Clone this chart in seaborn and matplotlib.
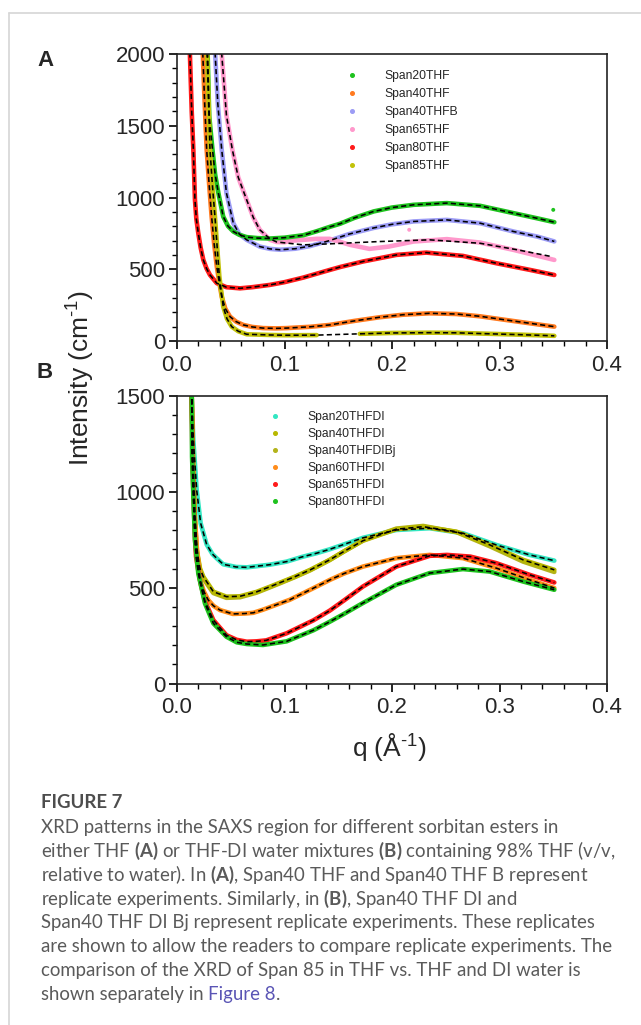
import seaborn as sns
from matplotlib import pyplot as plt
from matplotlib.lines import Line2D
from matplotlib.ticker import MultipleLocator

# ---------------- panel A : THF ----------------
q_a20 = [0.0275, 0.0285, 0.030, 0.033, 0.0355, 0.0385, 0.043, 0.0475, 0.0524, 0.058,
         0.0648, 0.075, 0.0865, 0.100, 0.1175, 0.130, 0.142, 0.152, 0.165, 0.183,
         0.200, 0.220, 0.251, 0.282, 0.313, 0.335, 0.351]
i_a20 = [2300, 2000, 1566, 1333, 1160, 1031, 867, 800, 763, 740,
         724, 717, 714, 720, 737, 765, 795, 818, 858, 903,
         930, 949, 961, 942, 891, 855, 828]

q_a40 = [0.0232, 0.024, 0.0255, 0.0276, 0.030, 0.0322, 0.0345, 0.037, 0.0395, 0.0416,
         0.045, 0.0493, 0.055, 0.0617, 0.070, 0.080, 0.092, 0.102, 0.124, 0.142,
         0.165, 0.188, 0.210, 0.235, 0.260, 0.282, 0.317, 0.351]
i_a40 = [2300, 2000, 1700, 1333, 1080, 867, 680, 519, 400, 309,
         225, 170, 135, 112, 98, 90, 88, 90, 99, 112,
         140, 165, 183, 193, 188, 172, 135, 100]

q_a40b = [0.034, 0.0355, 0.038, 0.0416, 0.046, 0.0524, 0.058, 0.0648, 0.077, 0.0865,
          0.0958, 0.110, 0.124, 0.142, 0.160, 0.183, 0.200, 0.220, 0.251, 0.282,
          0.313, 0.335, 0.351]
i_a40b = [2300, 2000, 1650, 1333, 1031, 821, 745, 705, 658, 642,
          636, 643, 662, 700, 745, 788, 813, 833, 844, 821,
          763, 728, 694]

q_a65 = [0.040, 0.0416, 0.046, 0.0515, 0.057, 0.0648, 0.071, 0.077, 0.0865, 0.0927,
         0.100, 0.105, 0.1175, 0.130, 0.142, 0.152, 0.161, 0.179, 0.197, 0.220,
         0.251, 0.282, 0.313, 0.351]
i_a65 = [2300, 2000, 1572, 1333, 1140, 984, 860, 775, 705, 690,
         688, 698, 705, 712, 712, 690, 670, 642, 658, 693,
         710, 686, 635, 565]
q_a65_fit = [0.040, 0.0416, 0.046, 0.0515, 0.057, 0.0648, 0.071, 0.077, 0.0865, 0.0927,
             0.1175, 0.142, 0.188, 0.235, 0.282, 0.317, 0.348]
i_a65_fit = [2300, 2000, 1572, 1333, 1140, 984, 860, 775, 712, 690,
             670, 677, 693, 705, 681, 635, 589]

q_a80 = [0.0112, 0.012, 0.0137, 0.0152, 0.0167, 0.018, 0.0198, 0.022, 0.0245, 0.0275,
         0.0307, 0.037, 0.046, 0.0586, 0.070, 0.0865, 0.100, 0.1175, 0.142, 0.152,
         0.173, 0.204, 0.232, 0.266, 0.297, 0.328, 0.351]
i_a80 = [2300, 2000, 1600, 1333, 984, 850, 752, 650, 565, 505,
         460, 403, 375, 367, 375, 391, 410, 442, 495, 516,
         554, 600, 616, 593, 542, 496, 460]

q_a85_lo = [0.027, 0.028, 0.0307, 0.033, 0.0353, 0.0375, 0.0394, 0.043, 0.0465, 0.0509,
            0.057, 0.0648, 0.0865, 0.102, 0.130]
i_a85_lo = [2300, 2000, 1333, 1080, 867, 640, 449, 239, 155, 100,
            68, 47, 42, 40, 41]
q_a85_hi = [0.170, 0.200, 0.235, 0.260, 0.282, 0.320, 0.351]
i_a85_hi = [50, 56, 58, 57, 52, 44, 36]

q_a_out = [0.216, 0.350]
i_a_out = [775, 914]

# ---------------- panel B : THF-DI ----------------
q_b20 = [0.0125, 0.0137, 0.0152, 0.0183, 0.022, 0.0276, 0.033, 0.037, 0.043, 0.055,
         0.065, 0.0865, 0.102, 0.116, 0.130, 0.142, 0.155, 0.173, 0.204, 0.235,
         0.266, 0.297, 0.328, 0.351]
i_b20 = [1700, 1494, 1270, 1010, 836, 725, 675, 653, 622, 608,
         606, 620, 636, 660, 680, 700, 725, 760, 801, 810,
         784, 723, 671, 641]

q_b40 = [0.0125, 0.0137, 0.0152, 0.0165, 0.0183, 0.0214, 0.0245, 0.0338, 0.046, 0.0586,
         0.074, 0.0865, 0.0958, 0.110, 0.124, 0.142, 0.155, 0.173, 0.204, 0.229,
         0.260, 0.291, 0.322, 0.351]
i_b40 = [1700, 1494, 1100, 880, 700, 600, 557, 479, 453, 455,
         478, 505, 526, 558, 593, 645, 688, 745, 805, 818,
         792, 723, 645, 593]
i_b40bj = [1700, 1494, 1080, 860, 690, 592, 548, 472, 447, 450,
           474, 502, 523, 556, 591, 644, 688, 747, 808, 822,
           790, 716, 636, 582]

q_b60 = [0.0125, 0.0137, 0.0146, 0.0165, 0.0183, 0.0214, 0.025, 0.029, 0.034, 0.040,
         0.052, 0.063, 0.071, 0.080, 0.092, 0.105, 0.130, 0.142, 0.155, 0.173,
         0.204, 0.235, 0.266, 0.297, 0.328, 0.351]
i_b60 = [1700, 1494, 1183, 880, 720, 540, 480, 436, 405, 383,
         363, 365, 369, 385, 410, 437, 506, 540, 573, 610,
         654, 671, 654, 602, 541, 498]

q_b65 = [0.0125, 0.0137, 0.0143, 0.0155, 0.0167, 0.0177, 0.0198, 0.022, 0.026, 0.0338,
         0.046, 0.0555, 0.065, 0.074, 0.083, 0.102, 0.127, 0.142, 0.155, 0.173,
         0.204, 0.235, 0.251, 0.273, 0.297, 0.328, 0.351]
i_b65 = [1700, 1494, 1183, 950, 760, 662, 590, 520, 430, 331,
         252, 228, 218, 220, 225, 262, 330, 380, 432, 506,
         610, 666, 671, 662, 628, 567, 527]

q_b80 = [0.0125, 0.0137, 0.014, 0.0155, 0.0167, 0.0198, 0.026, 0.0338, 0.046, 0.0555,
         0.065, 0.080, 0.102, 0.127, 0.142, 0.155, 0.173, 0.204, 0.235, 0.266,
         0.291, 0.322, 0.351]
i_b80 = [1700, 1494, 1183, 930, 749, 575, 418, 314, 244, 215,
         206, 201, 220, 278, 322, 362, 420, 515, 576, 597,
         584, 532, 489]

labels_a = ["Span20THF", "Span40THF", "Span40THFB", "Span65THF", "Span80THF", "Span85THF"]
colors_a = ["#1ec21e", "#ff7a1f", "#9c9cf5", "#ff99cc", "#ff1a1a", "#c2c20a"]
labels_b = ["Span20THFDI", "Span40THFDI", "Span40THFDIBj", "Span60THFDI", "Span65THFDI", "Span80THFDI"]
colors_b = ["#33e6c2", "#b8b800", "#b3b31a", "#ff8c1a", "#ff1a1a", "#1ec21e"]

caption_lines = [
    "XRD patterns in the SAXS region for different sorbitan esters in",
    r"either THF $\mathbf{(A)}$ or THF-DI water mixtures $\mathbf{(B)}$ containing 98% THF (v/v,",
    r"relative to water). In $\mathbf{(A)}$, Span40 THF and Span40 THF B represent",
    r"replicate experiments. Similarly, in $\mathbf{(B)}$, Span40 THF DI and",
    "Span40 THF DI Bj represent replicate experiments. These replicates",
    "are shown to allow the readers to compare replicate experiments. The",
    "comparison of the XRD of Span 85 in THF vs. THF and DI water is",
]

sns.set_style("ticks")
plt.rcParams['font.family'] = ['Liberation Sans', 'DejaVu Sans']
plt.rcParams['mathtext.fontset'] = 'custom'
plt.rcParams['mathtext.rm'] = 'Lato'
plt.rcParams['mathtext.bf'] = 'Lato:bold'
plt.rcParams['lines.dashed_pattern'] = [3.2, 2.0]
plt.rcParams['axes.linewidth'] = 1.2

W, H = 641, 1025
fig = plt.figure(figsize=(W / 100, H / 100), dpi=100)
ax_a = fig.add_axes([177 / W, 1 - 341 / H, 430 / W, 287 / H])
ax_b = fig.add_axes([177 / W, 1 - 683.5 / H, 430 / W, 287.5 / H])

data_lw = 3.3
fit_lw = 1.15


def draw(ax, q, i, color):
    sns.lineplot(x=q, y=i, ax=ax, color=color, lw=data_lw, sort=False, estimator=None)


def fit(ax, q, i):
    sns.lineplot(x=q, y=i, ax=ax, color="black", lw=fit_lw, linestyle="--",
                 sort=False, estimator=None)


# panel A
draw(ax_a, q_a40b, i_a40b, colors_a[2])
draw(ax_a, q_a65, i_a65, colors_a[3])
draw(ax_a, q_a20, i_a20, colors_a[0])
draw(ax_a, q_a80, i_a80, colors_a[4])
draw(ax_a, q_a40, i_a40, colors_a[1])
draw(ax_a, q_a85_lo, i_a85_lo, colors_a[5])
draw(ax_a, q_a85_hi, i_a85_hi, colors_a[5])
sns.scatterplot(x=q_a_out, y=i_a_out, ax=ax_a, hue=["pink", "green"],
                palette={"pink": colors_a[3], "green": colors_a[0]}, s=8,
                linewidth=0, legend=False)
for q, i in [(q_a20, i_a20), (q_a40, i_a40), (q_a40b, i_a40b), (q_a65_fit, i_a65_fit),
             (q_a80, i_a80), (q_a85_lo + q_a85_hi, i_a85_lo + i_a85_hi)]:
    fit(ax_a, q, i)

# panel B
draw(ax_b, q_b20, i_b20, colors_b[0])
draw(ax_b, q_b40, i_b40bj, colors_b[2])
draw(ax_b, q_b40, i_b40, colors_b[1])
draw(ax_b, q_b60, i_b60, colors_b[3])
draw(ax_b, q_b65, i_b65, colors_b[4])
draw(ax_b, q_b80, i_b80, colors_b[5])
for q, i in [(q_b20, i_b20), (q_b40, i_b40), (q_b60, i_b60), (q_b65, i_b65), (q_b80, i_b80)]:
    fit(ax_b, q, i)

for ax, top in [(ax_a, 2000), (ax_b, 1500)]:
    ax.set_xlim(0, 0.4)
    ax.set_ylim(0, top)
    ax.xaxis.set_major_locator(MultipleLocator(0.1))
    ax.xaxis.set_minor_locator(MultipleLocator(0.02))
    ax.yaxis.set_major_locator(MultipleLocator(500))
    ax.yaxis.set_minor_locator(MultipleLocator(100))
    ax.tick_params(which="major", length=6, width=1.2, labelsize=16, pad=4, color="black")
    ax.tick_params(which="minor", length=3.5, width=1.0, color="black")
    ax.tick_params(axis="y", pad=2.5)
    for s in ax.spines.values():
        s.set_visible(True)
        s.set_color("#222222")
    ax.set_xlabel("")
    ax.set_ylabel("")

handles_a = [Line2D([], [], ls="none", marker="o", ms=2.6, color=c) for c in colors_a]
ax_a.legend(handles_a, labels_a, loc="upper left", bbox_to_anchor=(0.379, 0.944),
            frameon=False, fontsize=8.7, handletextpad=1.67, labelspacing=0.5,
            borderpad=0, borderaxespad=0, handlelength=2)
handles_b = [Line2D([], [], ls="none", marker="o", ms=2.6, color=c) for c in colors_b]
ax_b.legend(handles_b, labels_b, loc="upper left", bbox_to_anchor=(0.2, 0.948),
            frameon=False, fontsize=8.7, handletextpad=1.67, labelspacing=0.42,
            borderpad=0, borderaxespad=0, handlelength=2)

# shared axis labels and panel letters
fig.text(80 / W, 1 - 378 / H, "Intensity (cm$^{\\mathdefault{\u20101}}$)", rotation=90,
         ha="center", va="center", fontsize=19)
fig.text(390 / W, 1 - 748 / H, "q ($\\mathdefault{\u00c5}^{\\mathdefault{\u20101}}$)",
         ha="center", va="center", fontsize=19)
fig.text(45 / W, 1 - 60 / H, "A", ha="center", va="center", fontsize=16, fontweight="bold")
fig.text(45 / W, 1 - 373 / H, "B", ha="center", va="center", fontsize=16, fontweight="bold")

# page frame
fig.add_artist(Line2D([8.5 / W, 8.5 / W], [0, 1 - 13 / H], transform=fig.transFigure,
                      color="#d6d6d6", lw=1.2))
fig.add_artist(Line2D([8.5 / W, 1], [1 - 13 / H, 1 - 13 / H], transform=fig.transFigure,
                      color="#d6d6d6", lw=1.2))

# caption
cap_font = "Lato"
cap_size = 13.4
cap_color = "#5a5a5a"
fig.text(41 / W, 1 - 803 / H, "FIGURE 7", ha="left", va="center", fontsize=cap_size,
         fontweight="bold", color="#4d4d4d", family=cap_font)
y0, dy = 827, 23.9
for k, line in enumerate(caption_lines):
    fig.text(41 / W, 1 - (y0 + k * dy) / H, line, ha="left", va="center",
             fontsize=cap_size, color=cap_color, family=cap_font)
y_last = 1 - (y0 + 7 * dy) / H
t1 = fig.text(41 / W, y_last, "shown separately in", ha="left", va="center",
              fontsize=cap_size, color=cap_color, family=cap_font)
renderer = fig.canvas.get_renderer()
x_end = t1.get_window_extent(renderer).x1
sp = fig.text(0, 0, "a a", fontsize=cap_size, family=cap_font)
sp2 = fig.text(0, 0, "aa", fontsize=cap_size, family=cap_font)
space_w = sp.get_window_extent(renderer).width - sp2.get_window_extent(renderer).width
sp.remove()
sp2.remove()
t2 = fig.text((x_end + space_w) / W, y_last, "Figure 8", ha="left", va="center",
              fontsize=cap_size, color="#5a55b5", family=cap_font)
x_end = t2.get_window_extent(renderer).x1
fig.text(x_end / W, y_last, ".", ha="left", va="center", fontsize=cap_size,
         color=cap_color, family=cap_font)

fig.savefig("out.png", dpi=100)
